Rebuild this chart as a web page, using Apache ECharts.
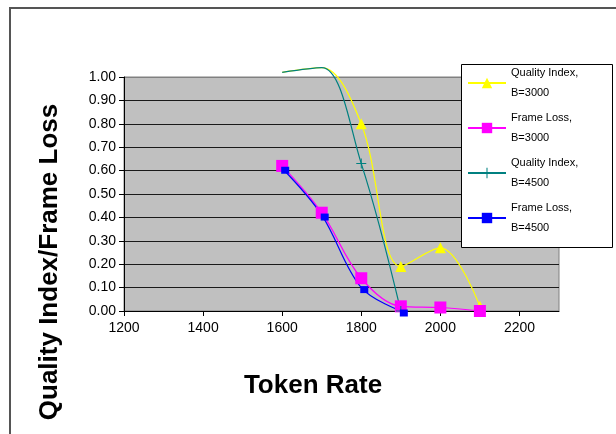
<!DOCTYPE html>
<html>
<head>
<meta charset="utf-8">
<script src="https://cdn.jsdelivr.net/npm/echarts@6/dist/echarts.min.js"></script>
<style>html,body{margin:0;padding:0;background:#fff;}#c{width:616px;height:434px;}</style>
</head>
<body>
<div id="c"></div>
<script>
// ---- data ----
const tokenRate = [1600, 1700, 1800, 1900, 2000, 2100];
const qualityB3000 = [1.02, 1.04, 0.80, 0.19, 0.27, 0.02];
const frameLossB3000 = [0.62, 0.42, 0.14, 0.02, 0.015, 0.0];
const qualityB4500 = [1.02, 1.04, 0.63, 0.0];
const frameLossB4500 = [0.61, 0.41, 0.10, 0.0];
const seriesNames = ['Quality Index,\nB=3000', 'Frame Loss,\nB=3000', 'Quality Index,\nB=4500', 'Frame Loss,\nB=4500'];
const xTickValues = [1200, 1400, 1600, 1800, 2000, 2200];
const yTickValues = [0, 0.1, 0.2, 0.3, 0.4, 0.5, 0.6, 0.7, 0.8, 0.9, 1.0];
const xTitle = 'Token Rate';
const yTitle = 'Quality Index/Frame Loss';

const Y_MAX = 1.0;
function pairs(vals, hideAbove) {
  return vals.map((v, i) => {
    const item = { value: [tokenRate[i], v] };
    if (hideAbove && v > Y_MAX) item.symbolSize = 0;
    return item;
  });
}

const chart = echarts.init(document.getElementById('c'), null, { renderer: 'canvas' });
const font = 'Liberation Sans, Arial, sans-serif';
const plus = 'path://M4.5,0H5.5V4.5H10V5.5H5.5V10H4.5V5.5H0V4.5H4.5Z';
const SM = 0.35;

chart.setOption({
  animation: false,
  backgroundColor: '#fff',
  textStyle: { fontFamily: font },
  grid: {
    left: 124, top: 77, right: 57, bottom: 123,
    show: true, backgroundColor: '#C0C0C0', borderColor: '#808080', borderWidth: 1
  },
  xAxis: {
    type: 'value', min: 1200, max: 2300, interval: 200,
    axisLine: { lineStyle: { color: '#000', width: 1 } },
    axisTick: { show: true, length: 5, lineStyle: { color: '#000' }, customValues: xTickValues },
    axisLabel: { color: '#000', fontSize: 14, fontFamily: font, margin: 10, customValues: xTickValues,
      formatter: v => String(v) },
    splitLine: { show: false }
  },
  yAxis: {
    type: 'value', min: 0, max: 1, interval: 0.1,
    axisLine: { show: true, lineStyle: { color: '#000', width: 1 } },
    axisTick: { show: true, length: 5, lineStyle: { color: '#000' }, customValues: yTickValues },
    axisLabel: { color: '#000', fontSize: 14, fontFamily: font, margin: 8, customValues: yTickValues,
      formatter: v => v.toFixed(2) },
    splitLine: { show: true, lineStyle: { color: ['#000','#1a1a1a','#1a1a1a','#1a1a1a','#1a1a1a','#1a1a1a','#1a1a1a','#1a1a1a','#1a1a1a','#1a1a1a','#808080'], width: 1 } }
  },
  legend: {
    orient: 'vertical', left: 467, top: 63, z: 5,
    itemWidth: 38, itemHeight: 13, itemGap: 5, padding: 0,
    textStyle: { fontSize: 11, fontFamily: font, color: '#000', lineHeight: 20 },
    data: seriesNames
  },
  graphic: [
    { type: 'rect', shape: { x: 10, y: 8, width: 640, height: 460 }, style: { fill: 'none', stroke: '#555', lineWidth: 2 }, silent: true },
    { type: 'rect', shape: { x: 461.5, y: 64.5, width: 151, height: 183 }, style: { fill: '#fff', stroke: '#000', lineWidth: 1 }, z: 4, silent: true },
    { type: 'text', x: 50, y: 262, rotation: Math.PI / 2, style: { text: yTitle, font: 'bold 26px ' + font, fill: '#000', align: 'center', verticalAlign: 'middle' } },
    { type: 'text', x: 313, y: 386, style: { text: xTitle, font: 'bold 26px ' + font, fill: '#000', align: 'center', verticalAlign: 'middle' } }
  ],
  series: [
    { name: seriesNames[0], type: 'line', smooth: SM, clip: false, data: pairs(qualityB3000, true),
      symbol: 'triangle', symbolSize: [11, 11], lineStyle: { color: '#FFFF00', width: 1.2 }, itemStyle: { color: '#FFFF00' } },
    { name: seriesNames[1], type: 'line', smooth: SM, clip: false, data: pairs(frameLossB3000, false),
      symbol: 'rect', symbolSize: 12, lineStyle: { color: '#FF00FF', width: 1.2 }, itemStyle: { color: '#FF00FF' } },
    { name: seriesNames[2], type: 'line', smooth: SM, clip: false, data: pairs(qualityB4500, true),
      symbol: plus, symbolSize: 10, lineStyle: { color: '#008080', width: 1.2 }, itemStyle: { color: '#008080' } },
    { name: seriesNames[3], type: 'line', smooth: SM, clip: false, data: pairs(frameLossB4500, false),
      symbol: 'rect', symbolSize: [8, 7], symbolOffset: [3, 2], lineStyle: { color: '#0000FF', width: 1.2 }, itemStyle: { color: '#0000FF' } }
  ]
});
</script>
</body>
</html>
